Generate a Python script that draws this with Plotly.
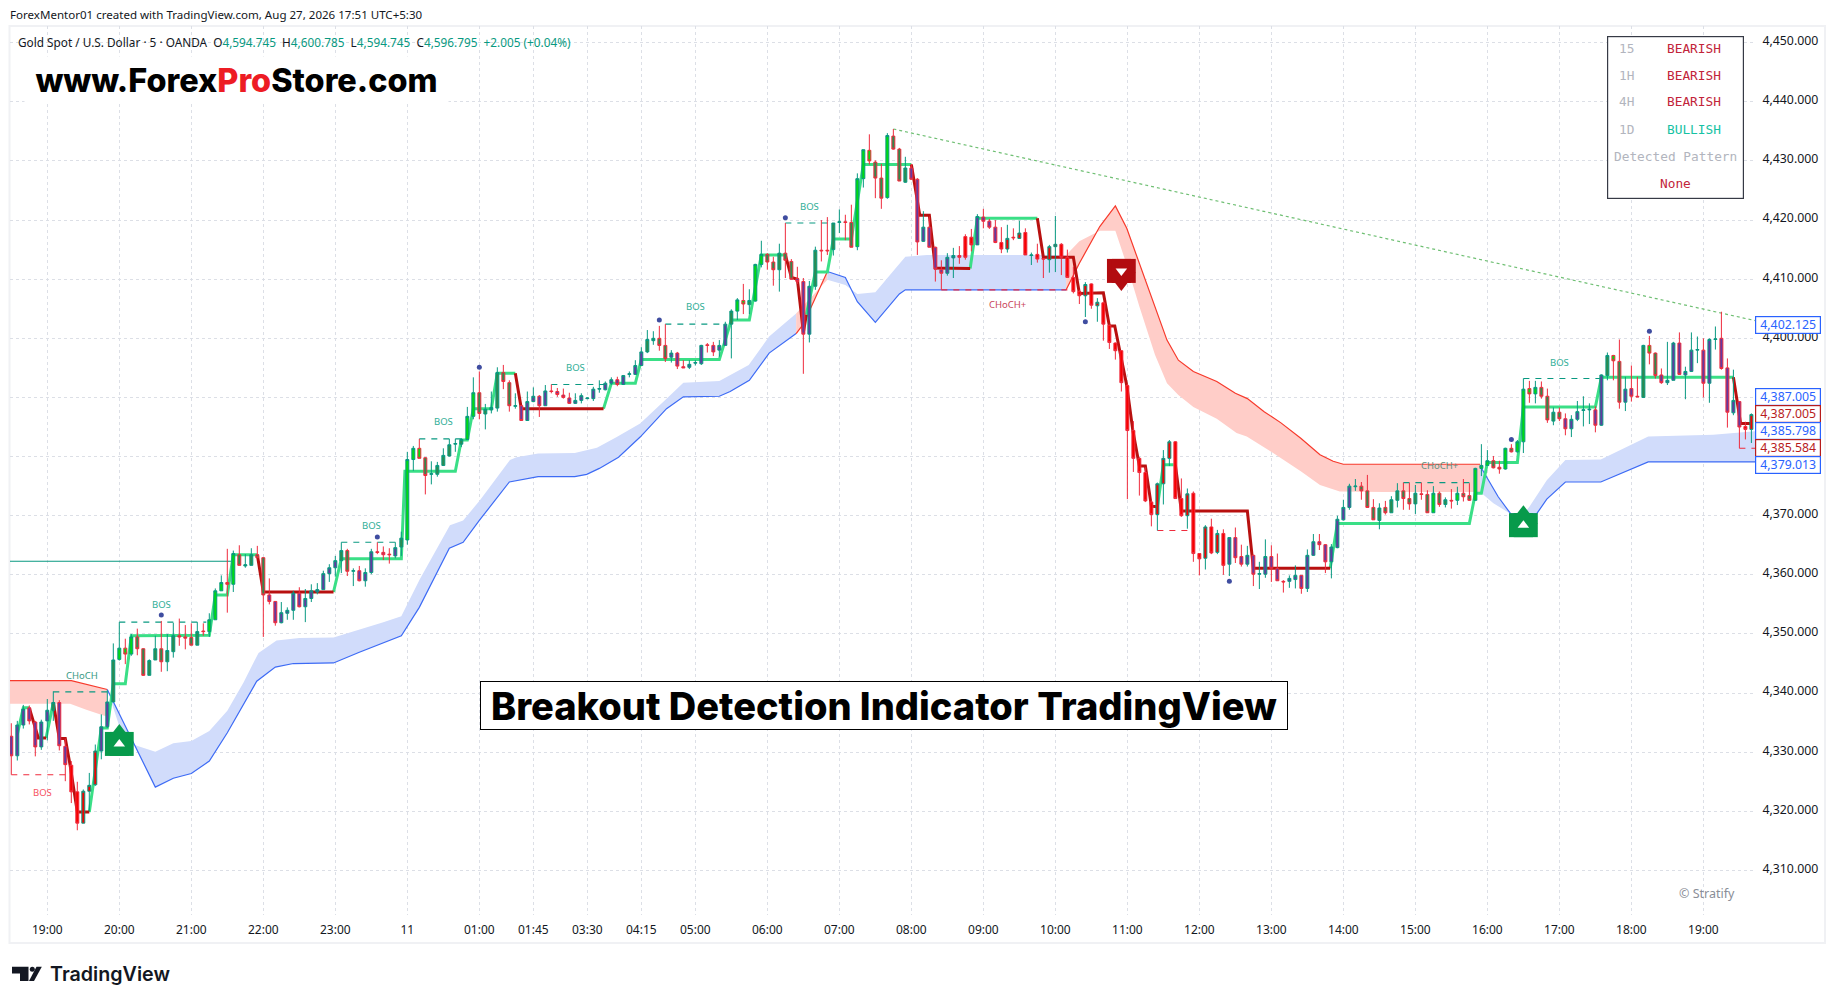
import plotly.graph_objects as go

# ---------- candle data (bar index, body top/bottom, wicks, direction, body colour) ----------
candle_index = list(range(-6, 285))
candle_top = [
 4332.7,4334.6,4337.3,4337.5,4335.1,4335.1,4337.1,4338.4,4338.4,4331,
 4327.8,4323.3,4323.4,4324.4,4330.2,4334.3,4338.5,4345.6,4347.6,4347.6,
 4349.5,4349.5,4347.5,4345.5,4347.5,4347.5,4347.2,4349.7,4349.7,4349.5,
 4349.4,4350.4,4350.5,4352.4,4357.3,4358.7,4358.7,4363.6,4363.4,4361.7,
 4363.4,4363.4,4362.9,4356.6,4355.5,4353.6,4354,4356.9,4356.9,4356,
 4357.3,4357.5,4360.2,4361.2,4362.4,4364.1,4364.1,4360.7,4360.7,4360.4,
 4363.9,4363.9,4363.8,4363.5,4364.6,4366.2,4379.5,4381.4,4381.4,4379.8,
 4377.1,4378.5,4380.2,4382,4382.2,4382.9,4386.8,4390.8,4390.8,4388,
 4388.3,4394.2,4394.2,4392.5,4388.6,4388.6,4389.3,4390.2,4390.2,4391.1,
 4391.1,4391,4390.4,4389.9,4389.5,4390.3,4389.9,4391.4,4391.5,4392.4,
 4393,4393,4393.7,4394,4395.4,4397.7,4399.8,4400,4400,4398.8,
 4397.5,4397.5,4395.2,4395.6,4395.9,4398.8,4398.9,4398.8,4398.8,4402.4,
 4404.6,4406.5,4406.4,4406.4,4412.5,4414.2,4414.2,4412.9,4414.4,4414.4,
 4413,4410.1,4409.6,4408.8,4414.9,4414.9,4414.9,4419.5,4419.7,4419.7,
 4419.6,4427,4431.9,4431.8,4429.8,4427.1,4434.3,4434.2,4432,4428.8,
 4428.8,4426.9,4418.8,4418.8,4415.4,4411.6,4413.7,4414,4414,4417.2,
 4417.1,4420.6,4420.5,4419.8,4418.8,4416.2,4416.9,4417.1,4417.8,4417.9,
 4414.1,4414.2,4413.5,4415.5,4415.9,4415.9,4413.7,4410.3,4407.9,4409.1,
 4409.2,4406.1,4406,4402.2,4399.2,4397.9,4392,4384.4,4379.7,4377.3,
 4372.3,4375.4,4379.7,4382.5,4382.5,4372.9,4373.7,4373.8,4363.6,4368.1,
 4368.1,4367,4367,4366.3,4366.3,4363.1,4363.3,4363.3,4360.2,4363.1,
 4363.1,4361.1,4358.9,4359.4,4359.9,4359.9,4363.3,4365.6,4365.6,4365.1,
 4364.7,4369.4,4371.4,4375,4375,4375,4374.2,4371.4,4371.3,4371.4,
 4372.7,4374.2,4374.2,4372.9,4373.8,4373.7,4373.6,4373.8,4373.8,4372.7,
 4372.6,4373.8,4373.8,4373.4,4378,4378.5,4379.3,4379.3,4378.2,4381.4,
 4381.4,4382.5,4391.4,4391.5,4391.7,4391.7,4390.2,4387.5,4387.5,4386.4,
 4386.3,4387.6,4387.9,4388,4387.9,4393.8,4397.1,4397.1,4396.1,4391.4,
 4391.5,4390.2,4398.8,4398.8,4397.5,4393.8,4392.9,4399.2,4399.2,4394.4,
 4398,4398.1,4398,4399.8,4399.9,4400,4395,4389.5,4389.3,4385.1,
 4387.1]
candle_bottom = [
 4329.4,4329.4,4334.6,4335.3,4330.9,4330.9,4335.3,4337.1,4331.1,4327.9,
 4323.3,4318,4318,4323.4,4324.5,4330.2,4334.3,4338.5,4345.7,4346.6,
 4346.6,4347.5,4343,4343,4345.6,4345.3,4345.3,4347,4349.5,4349.3,
 4348.1,4348.1,4350.4,4350.4,4352.4,4357.3,4358.4,4358.4,4361.6,4361.5,
 4361.6,4362.9,4356.6,4355.5,4351.9,4351.9,4353.5,4354,4354.6,4354.6,
 4356,4357.1,4357.5,4360.2,4361.2,4362.4,4360.6,4360.6,4359,4359,
 4360.4,4363.8,4363.4,4363.4,4363.2,4364.7,4365.9,4379.5,4379.7,4376.8,
 4377,4377,4378.5,4380.1,4382.1,4382.1,4382.9,4386.8,4387.3,4387.2,
 4387.9,4388.2,4392.7,4388.6,4388.5,4386.1,4386.1,4389.3,4388.6,4388.6,
 4391,4390.5,4390,4389,4389,4389.5,4389.8,4389.8,4391.4,4391.3,
 4392.4,4392.2,4392.2,4393.9,4393.9,4395.4,4397.7,4399.6,4398.8,4396.6,
 4396.8,4395.3,4395,4395.1,4395.8,4395.7,4398.8,4397.7,4398,4398.8,
 4402.4,4404.6,4405.8,4405.7,4406.3,4412.5,4412.9,4411.6,4411.6,4413.2,
 4410,4409.6,4400.7,4400.7,4408.8,4414.8,4414.8,4415,4419.6,4419.6,
 4415.4,4415.5,4427,4430,4427.1,4423.7,4423.8,4432,4426.6,4426.4,
 4426.9,4416.3,4416.4,4415.4,4411.7,4411,4411,4413.6,4413.7,4413.7,
 4415.8,4415.8,4419.8,4418.8,4416.2,4415.1,4415.1,4417,4416.9,4414.1,
 4414,4413.4,4413.4,4413.3,4415.5,4413.7,4410.3,4407.9,4407.2,4407.2,
 4405.6,4405.5,4402.4,4399.3,4397.9,4392.5,4384.4,4379.7,4377.3,4372.5,
 4370.2,4370.2,4375.4,4379.7,4372.9,4370,4370,4363.6,4362.7,4362.8,
 4363.7,4363.8,4361.6,4361.8,4362.9,4361.8,4361.8,4360.1,4360.1,4360.1,
 4361.1,4359,4358.8,4358.9,4359.2,4357.7,4357.7,4363.3,4365.1,4362.2,
 4362.2,4364.6,4369.3,4371.4,4374.9,4374.2,4371.4,4369.3,4369.2,4370.5,
 4370.5,4372.6,4372.9,4372,4372,4373.6,4370.5,4370.5,4371.9,4371.9,
 4372.5,4372.6,4373.2,4372.6,4372.6,4378,4378.5,4378.1,4377.9,4377.9,
 4380.8,4380.8,4382.5,4390.6,4390.6,4390.2,4386.2,4386,4386.4,4384.7,
 4384.7,4386.3,4387.8,4387.9,4385.3,4385.3,4393.7,4396.2,4389.2,4389.2,
 4390.2,4390.1,4390,4397.5,4393.7,4392.5,4392.5,4392.9,4393.9,4393.8,
 4394.4,4398,4392.4,4392.4,4399.8,4394.9,4387.5,4387.4,4385,4384.6,
 4384.6]
candle_high = [
 4334.9,4335.3,4338,4337.9,4335.3,4335.5,4339,4340.3,4338.8,4332.3,
 4328.5,4325,4323.7,4326.5,4331.3,4336.4,4340.5,4348.4,4352,4349.2,
 4350,4350.9,4347.6,4345.7,4349.7,4352.2,4350,4351.9,4352.6,4351.5,
 4351.8,4352,4351.8,4353.5,4357.7,4359.9,4364.4,4364.1,4365,4363.5,
 4364.5,4364.9,4363,4359.4,4355.5,4355.4,4354.5,4357.3,4357.9,4357.6,
 4358.4,4358.6,4360.7,4361.8,4363.2,4365.5,4364.4,4361.1,4361.5,4361.1,
 4364.4,4365.5,4364.8,4364.5,4365.5,4367.3,4380.8,4381.8,4383,4379.9,
 4379.2,4379.1,4381.4,4383,4383,4383.1,4388.4,4393.4,4394.4,4388.9,
 4391,4395.1,4395.5,4392.9,4390.7,4388.7,4391,4391.7,4390.4,4392.1,
 4392.2,4391.6,4391.5,4390.8,4390.7,4390.7,4390,4391.8,4392.9,4392.7,
 4393.4,4393.5,4393.8,4394.4,4396.3,4398.5,4401.4,4401.2,4402.1,4402.4,
 4398,4397.7,4396.3,4396.3,4396.3,4398.9,4399.2,4399.4,4399.7,4402.8,
 4404.9,4406.8,4409.2,4408.3,4412.6,4416.5,4414.4,4413.8,4416,4419.5,
 4413.4,4412.1,4410.2,4409.7,4415.5,4420,4420.5,4419.5,4421.8,4420.9,
 4422.6,4427.9,4431.9,4434.5,4430.1,4429.5,4434.7,4435.4,4432.2,4430.7,
 4429.5,4427.1,4421.5,4420.6,4415.5,4413.2,4414.4,4415.3,4415.6,4417.6,
 4418.5,4421,4421.9,4420.2,4420,4418.8,4419.2,4418.6,4419.9,4418.6,
 4414.5,4416,4413.6,4415.8,4420.7,4416.1,4415,4412.1,4408.2,4409.5,
 4409.3,4406.8,4406.2,4402.3,4399.3,4398,4392.3,4386,4379.9,4378.2,
 4372.6,4375.6,4381.1,4382.8,4382.6,4376.3,4374.6,4374.1,4363.6,4368.4,
 4369.5,4367.6,4367.7,4366.3,4368,4365.1,4364.9,4363.4,4362.2,4366,
 4365,4363.6,4359.1,4359.9,4361.6,4359.9,4364.3,4366.9,4366.9,4365.2,
 4365.2,4370,4372.7,4375.4,4376.2,4375.7,4376.9,4372.8,4372.1,4372.5,
 4373.3,4375.5,4375.6,4375.6,4375.2,4375.6,4374.3,4375,4374.1,4373.1,
 4374.5,4374.9,4376.2,4375.5,4378.1,4382.1,4381.1,4380.1,4379.3,4381.5,
 4382.1,4382.8,4393.2,4392.8,4392.8,4392.7,4391.5,4388.3,4388.3,4387.3,
 4387,4389.4,4390.2,4389,4388.5,4393.9,4397.6,4397.2,4399.8,4393.5,
 4395.4,4393.5,4398.9,4400.4,4397.6,4394.9,4399.4,4399.4,4401,4395.2,
 4401,4400.3,4400,4400,4402,4404.5,4396.6,4394.7,4389.3,4385.9,
 4387.3]
candle_low = [
 4326.2,4328.6,4334,4334.7,4329.3,4330.4,4332,4335.3,4330.3,4325.1,
 4321.4,4316.8,4318,4320,4324.3,4328.8,4334.1,4338.5,4345.5,4344.9,
 4346.3,4346.4,4342.9,4343,4345.6,4343.6,4343.7,4346,4348,4347.4,
 4348.1,4348.1,4349.7,4349.5,4352.4,4357.3,4353.6,4357.1,4361.6,4361.2,
 4361.6,4362.9,4349.5,4355,4351.4,4351.8,4352.4,4352.4,4354.5,4352,
 4355.4,4356.7,4357.5,4358.8,4359.7,4360.3,4359.8,4358.1,4358.9,4358,
 4360.1,4363.5,4362.5,4361.9,4362.8,4363.2,4365.1,4377.6,4379.7,4373.6,
 4375.3,4376.6,4378.4,4380,4380.8,4381.6,4382.9,4386.3,4386.3,4384.6,
 4387.3,4387.6,4391.4,4387.6,4388.1,4386.1,4386.1,4389.2,4386.7,4388.6,
 4390.7,4390.1,4389.8,4388.9,4388.9,4389,4389.7,4389.4,4390.8,4391.2,
 4392.1,4391.9,4392.1,4393.4,4393.8,4395.3,4397.5,4398.9,4397.9,4396,
 4395.9,4394.8,4395,4394.8,4395.4,4395.5,4397.6,4397,4396.9,4398.8,
 4396.6,4403.1,4404.1,4404.1,4406.2,4412,4411.6,4408.9,4407.9,4410.2,
 4409.9,4409.2,4394,4399.3,4408.2,4413,4414.1,4414,4417.8,4416.6,
 4415.4,4414.9,4425.5,4429.4,4423.7,4421.9,4423.6,4431.9,4426.6,4426.3,
 4426.8,4414.1,4416.3,4415.4,4409.6,4408.2,4410.6,4410.2,4412.6,4413.3,
 4414.7,4415.8,4418.6,4418.5,4416.1,4414.4,4414.5,4416.6,4416.8,4414.1,
 4412.4,4412.8,4410.2,4411.1,4411.2,4410.7,4410.3,4407.6,4405.8,4403.6,
 4405,4402.8,4399.6,4398.2,4396.4,4391,4372.8,4377.4,4373.4,4372.3,
 4368.2,4367.5,4371.9,4378.4,4372.9,4369.8,4367.8,4362.2,4359.9,4360.9,
 4363.5,4363.5,4360,4359.8,4362,4361.4,4361.4,4358.1,4357.6,4359.5,
 4358.8,4359,4357,4357.8,4357.7,4356.8,4357.1,4363.2,4364.2,4360.3,
 4359.4,4364.5,4369.2,4371,4374.2,4372.7,4371.4,4369.3,4367.7,4370.2,
 4370.5,4371.4,4371,4371,4370.3,4372.7,4370.5,4370.5,4371.5,4371.4,
 4371.2,4371.8,4372.4,4372.5,4372.5,4376.7,4378.5,4378,4377.1,4377.8,
 4380.7,4380.7,4380.6,4389.1,4389,4389.8,4385.7,4385.3,4386,4383.6,
 4383.3,4386,4385.1,4385.5,4384.1,4385.2,4392.9,4392.9,4388.1,4387.7,
 4389.3,4390.1,4389.9,4395.6,4393.2,4392.3,4392.1,4392.9,4393.8,4389.7,
 4394.3,4395.8,4390,4389.1,4398.1,4394.7,4384.9,4387,4381.4,4382.9,
 4382.3]
candle_dir = ("duudd uuudd dduuu uuuud udduu duudd duduu ududu udddd uuudu uuuuu ududu "
              "udddu uuudd uuuuu uuudu uuddu duudu ddddu uuuuu uduuu uuudd udduu udduu "
              "uuduu uddud ddduu dduud duudd duddu ddudd duudd duddd dudud udduu ddddu "
              "duddd ddddd duuud duddu dudud duduu ddduu duudd uuuuu dddud uuddu ddudu "
              "duddu uuddu duudu ddudd uuuud uuddu ddudd duudu uuduu ddudd u").replace(" ", "")
candle_fill = ("ppppp ppspp rrrrr ppsgg gssss sssss sssgg gggss ssspp ppppp ppppp ssspp "
               "ppppp sgggs sssss sggss sssss ppppp ppppp ppppp ppppp pssss ppppp ppppp "
               "sggsg gssss sppps sssss sgggs sgsss ppppp ppppr rpppp rrrrr rrrrr rrrrr "
               "rrrrr rrrrr rrrrr rrrrr rrrpp ppppp ppppp ppppp pppps sssss sssss ssgss "
               "sgssg ggssg sgggg ssssp ppppp psgsp ppsgs ppppp ppppp ppppr r").replace(" ", "")

# ---------- trend step line ----------
bull_trend_index = [-5,-4,-3,None,-0.2,1,None,7,8,9,10,11,13,14,27,28,30,31,35,None,47.7,49,59,59.6,68,69,70,71,74,75,78,None,
                    92.7,94,98,99,112,114,117,119,123,None,126.5,128,130,131,134,136,144,None,153.8,155,165,None,
                    185,186,187.7,None,213.8,215,237,238,239,240,245,246,258,259,281]
bull_trend_price = [4333,4337.5,4337.5,None,4332.4,4338.4,None,4319.9,4327,4334.1,4334.1,4341.6,4341.6,4349.7,4349.8,4356.6,4356.6,4363.4,4363.4,None,
                    4357.1,4362.7,4362.7,4377.5,4377.5,4382.8,4382.8,4388.1,4388.1,4394.1,4394.1,None,
                    4388.1,4392.4,4392.4,4396.4,4396.4,4403.1,4403.1,4414.1,4414.1,None,4404,4411.2,4411.2,4416.8,4416.8,4429.4,4429.4,None,
                    4411.8,4420.3,4420.3,None,4371.5,4378.6,4378.6,None,4361.1,4368.7,4368.7,4373.8,4373.8,4379,4379,4388.4,4388.4,4393.4,4393.4]
bear_trend_index = [-3,-1.5,-0.2,None,1,2,3,3.8,5,7,None,35,36,47.7,None,78,79,92.7,None,123,124,125,126,126.5,None,
                    144,145.4,147,148,153.8,None,165,166,171,172,176,177,177.9,179.9,180.9,182,183,184,185,None,
                    188,189,200,201,213.8,None,281,282.2,284]
bear_trend_price = [4337.5,4332.4,4332.4,None,4338.4,4332.3,4332.3,4327.8,4319.9,4319.9,None,4363.4,4357.1,4357.1,None,4394.1,4388.1,4388.1,None,
                    4414.1,4410.3,4410,4401,4404,None,4429.4,4420.8,4420.8,4411.9,4411.8,None,4420.3,4413.7,4413.7,4407.6,4407.7,4402.1,4402.1,4392,4384.5,
                    4378.4,4378.4,4371.6,4371.5,None,4378.6,4370.8,4370.8,4361.1,4361.1,None,4393.4,4385.6,4385.6]

# ---------- cloud bands ----------
red1_line_index = [-6.3,4,10]
red1_line_price = [4342.1,4342.1,4340.6]
red1_edge_index = [-6.3,3.8,6.5,10]
red1_edge_price = [4338.2,4338.2,4337.2,4336]
blue1_line_index = [10,18,21,24,27,30,34.9,38,41,47.7,52,56,59,62,67,69.3,72,77,78,81.8,87.9,89.9,92,95.2,98.8,103.2,106,112,113.8,117,120.3,124.8]
blue1_line_price = [4340.6,4324.1,4325.6,4326.4,4328.5,4333.3,4342,4344.4,4345,4345.1,4346.9,4348.5,4349.7,4354.5,4364.5,4365.5,4369.2,4375.7,4375.9,4376.6,4376.6,4377,4378,4379.9,4383.3,4388.1,4390.1,4390.2,4391,4392.9,4397.5,4400.8]
blue1_edge_index = [10,12,14.3,18,21,24,27,30,32.7,35.2,38.2,42,47.7,53.3,56,59,62.1,67.1,69.3,72.1,77.1,78.2,81.8,87.9,91.6,94.9,98.8,103.2,106,112,116.9,120.3,124.8]
blue1_edge_price = [4340.6,4334.4,4331.3,4330.1,4331.5,4331.9,4333.6,4337,4341.8,4346.8,4348.9,4349.3,4349.4,4351.1,4352,4353,4359.3,4368.4,4369.2,4372.6,4379.4,4379.9,4380.5,4380.6,4381.5,4383.3,4385.6,4389.8,4392.5,4392.8,4395.5,4400.3,4404.2]
red2_line_index = [124.8,126,130]
red2_line_price = [4400.8,4402.4,4411.3]
red2_edge_index = [124.8,126,130]
red2_edge_price = [4404.2,4405.5,4409.9]
blue2_line_index = [130,133,135,138,142,143,169.8]
blue2_line_price = [4411.3,4410.3,4406.2,4402.7,4407.5,4408.2,4408.2]
blue2_edge_index = [130,133,135,138,143,146.6,169.8]
blue2_edge_price = [4409.9,4409,4407.5,4407.8,4413.8,4414.1,4414.1]
red3_line_index = [169.8,172,175.4,178,179.9,182,184.6,186.6,188.5,191,194.9,198,200,202.8,205.6,208.9,212.1,214.3,216,238.8]
red3_line_price = [4408.2,4412.7,4418.9,4422.4,4418.6,4412.7,4405.4,4399.7,4396.3,4394.4,4392.7,4390.7,4389.8,4387.6,4385.7,4383.1,4380.3,4379.2,4378.7,4378.7]
red3_edge_index = [169.8,172,175.4,178,180,182,184.6,186.6,188.5,191,194.9,198.2,199.9,204.3,208.9,212.1,215.4,222.8,238.8]
red3_edge_price = [4414.1,4416.4,4418.2,4418.2,4412.1,4405.4,4397.2,4392.4,4390.4,4388.4,4386.4,4384,4383.4,4380.6,4377.5,4375.2,4374.1,4374,4374]
blue3_line_index = [238.8,241.8,243.9,248.2,249.9,253,258.9,266.8,284.6]
blue3_line_price = [4378.4,4373.2,4370.3,4370.3,4372.8,4375.7,4375.7,4379.1,4379.1]
blue3_edge_index = [238.8,241,243.9,246,247,249.9,253,258.9,266.8,277.6,284.6]
blue3_edge_price = [4374,4372.1,4370.3,4370.3,4371.5,4376,4379.4,4379.5,4383.4,4383.7,4384.3]

# ---------- structure levels: [start, end, price] ----------
bull_level_start = [1,12,49,62,84,103,123,226,246]
bull_level_end = [10,26.5,58.8,69.3,93.8,113,131,238,259]
bull_level_price = [4340.2,4352,4365.5,4383,4392.2,4402.4,4419.5,4375.6,4393.2]
bear_level_start = [-6,149,185,282]
bear_level_end = [3.2,170,191,284.6]
bear_level_price = [4326.2,4408.2,4367.5,4381.4]
solid_level_index = [-6.3,30.7]
solid_level_price = [4362.3,4362.3]
trendline_index = [141,284.6]
trendline_price = [4435.4,4403]
pivot_index = [19,55,72,102,123,173,197,244,267]
pivot_price = [4353.2,4366.4,4395.1,4403.1,4420.4,4402.8,4358.9,4382.9,4401.2]

label_text = ["BOS","BOS","BOS","BOS","BOS","BOS","CHoCH","CHoCH+","BOS","BOS","CHoCH+"]
label_index = [19,54,66,88,108,127,5.8,232,252,-0.8,160]
label_price = [4354.9,4368.3,4385.9,4395,4405.3,4422.3,4342.9,4378.5,4395.9,4323.2,4405.8]
label_color = ["#2fae96","#2fae96","#2fae96","#2fae96","#2fae96","#2fae96","#3a9a84","#5a8f80","#2fae96","#f7525f","#c9455a"]

buy_index = [12,246]
buy_price = [4331.4,4368.4]
sell_index = [179]
sell_price = [4411.4]

# ---------- axis labels ----------
time_tick_index = [0,12,24,36,48,60,72,81,90,99,108,120,132,144,156,168,180,192,204,216,228,240,252,264,276]
time_tick_text = ["19:00","20:00","21:00","22:00","23:00","11","01:00","01:45","03:30","04:15","05:00","06:00","07:00","08:00","09:00","10:00","11:00","12:00","13:00","14:00","15:00","16:00","17:00","18:00","19:00"]
price_ticks = [4310,4320,4330,4340,4350,4360,4370,4380,4390,4400,4410,4420,4430,4440,4450]

# table
table_left = ["15","1H","4H","1D"]
table_right = ["BEARISH","BEARISH","BEARISH","BULLISH"]

# axis price flags: value, colour, pixel y
flag_text = ["4,402.125","4,387.005","4,387.005","4,385.798","4,385.584","4,379.013"]
flag_color = ["#2962ff","#2962ff","#b71c1c","#2962ff","#b71c1c","#2962ff"]
flag_px = [325,396.7,414,431,448.3,465]

# ---------- layout geometry ----------
W, H = 1835, 1004
L, R, T, B = 10, 1755, 26, 915
def X(px): return (px - L) / (R - L)
def Y(px): return 1 - (px - T) / (B - T)

FONT = "Noto Sans"
BEAR = "#ef2b3d"
BULL = "#089981"
FILLS = {"g": "#00dc12", "s": "#2e8b4f", "p": "#633aa0", "r": "#f70000"}

fig = go.Figure()

def band(xa, ya, xb, yb, line_color, fill, name):
    fig.add_trace(go.Scatter(x=xb, y=yb, mode="lines", line=dict(width=0, color=fill), hoverinfo="skip", showlegend=False, name=name + " edge"))
    fig.add_trace(go.Scatter(x=xa, y=ya, mode="lines", line=dict(width=1.2, color=line_color), fill="tonexty", fillcolor=fill, hoverinfo="skip", showlegend=False, name=name))

RED_L, RED_F, BLUE_L, BLUE_F = "#f7392b", "rgba(255,205,200,1)", "#3d6bf5", "rgba(209,220,251,1)"
band(red1_line_index, red1_line_price, red1_edge_index, red1_edge_price, RED_L, RED_F, "red cloud 1")
band(blue1_line_index, blue1_line_price, blue1_edge_index, blue1_edge_price, BLUE_L, BLUE_F, "blue cloud 1")
band(red2_line_index, red2_line_price, red2_edge_index, red2_edge_price, RED_L, RED_F, "red cloud 2")
band(blue2_line_index, blue2_line_price, blue2_edge_index, blue2_edge_price, BLUE_L, BLUE_F, "blue cloud 2")
band(red3_line_index, red3_line_price, red3_edge_index, red3_edge_price, RED_L, RED_F, "red cloud 3")
band(blue3_line_index, blue3_line_price, blue3_edge_index, blue3_edge_price, BLUE_L, BLUE_F, "blue cloud 3")

fig.add_trace(go.Scatter(x=solid_level_index, y=solid_level_price, mode="lines", line=dict(color=BULL, width=1.1), showlegend=False, hoverinfo="skip"))
fig.add_trace(go.Scatter(x=trendline_index, y=trendline_price, mode="lines", line=dict(color="#6fbf73", width=1.2, dash="dot"), showlegend=False, hoverinfo="skip"))

def levels(starts, ends, prices, color):
    xs, ys = [], []
    for a, b, p in zip(starts, ends, prices):
        xs += [a, b, None]
        ys += [p, p, None]
    fig.add_trace(go.Scatter(x=xs, y=ys, mode="lines", line=dict(color=color, width=1.1, dash="6px,6px"), showlegend=False, hoverinfo="skip"))

levels(bull_level_start, bull_level_end, bull_level_price, BULL)
levels(bear_level_start, bear_level_end, bear_level_price, BEAR)

fig.add_trace(go.Scatter(x=bull_trend_index, y=bull_trend_price, mode="lines", line=dict(color="#3adf86", width=3), showlegend=False, hoverinfo="skip"))
fig.add_trace(go.Scatter(x=bear_trend_index, y=bear_trend_price, mode="lines", line=dict(color="#b8100f", width=3), showlegend=False, hoverinfo="skip"))

# candles: one trace per body colour; direction picks the border colour
assert len(candle_index) == len(candle_top) == len(candle_bottom) == len(candle_high) == len(candle_low) == len(candle_dir) == len(candle_fill)
for code, colour in FILLS.items():
    rows = [k for k, c in enumerate(candle_fill) if c == code]
    fig.add_trace(go.Candlestick(
        x=[candle_index[k] for k in rows],
        open=[candle_top[k] if candle_dir[k] == "d" else candle_bottom[k] for k in rows],
        close=[candle_bottom[k] if candle_dir[k] == "d" else candle_top[k] for k in rows],
        high=[candle_high[k] for k in rows],
        low=[candle_low[k] for k in rows],
        increasing=dict(line=dict(color=BULL, width=1), fillcolor=colour),
        decreasing=dict(line=dict(color=BEAR, width=1), fillcolor=colour),
        whiskerwidth=0, showlegend=False, hoverinfo="skip", zorder=5))

fig.add_trace(go.Scatter(x=pivot_index, y=pivot_price, mode="markers", marker=dict(color="#3f4da0", size=5), showlegend=False, hoverinfo="skip", zorder=6))

# signal tags
BUY, SELL = "#079a4b", "#b20c10"
for dx in (-0.4, 0.4):
    fig.add_trace(go.Scatter(x=[v + dx for v in buy_index], y=buy_price, mode="markers", marker=dict(symbol="square", size=24, color=BUY), showlegend=False, hoverinfo="skip", zorder=7))
    fig.add_trace(go.Scatter(x=[v + dx for v in sell_index], y=sell_price, mode="markers", marker=dict(symbol="square", size=24, color=SELL), showlegend=False, hoverinfo="skip", zorder=7))
fig.add_trace(go.Scatter(x=buy_index, y=[v + 1.27 for v in buy_price], mode="markers", marker=dict(symbol="triangle-up", size=25, color=BUY), showlegend=False, hoverinfo="skip", zorder=7))
fig.add_trace(go.Scatter(x=sell_index, y=[v - 1.27 for v in sell_price], mode="markers", marker=dict(symbol="triangle-down", size=25, color=SELL), showlegend=False, hoverinfo="skip", zorder=7))
fig.add_trace(go.Scatter(x=buy_index, y=buy_price, mode="markers", marker=dict(symbol="triangle-up", size=10, color="white"), showlegend=False, hoverinfo="skip", zorder=8))
fig.add_trace(go.Scatter(x=sell_index, y=sell_price, mode="markers", marker=dict(symbol="triangle-down", size=10, color="white"), showlegend=False, hoverinfo="skip", zorder=8))

ann = []
def text(px, py, s, size=12, color="#131722", family=FONT, anchor="left", weight=None, **kw):
    f = dict(size=size, color=color, family=family)
    if weight:
        f["weight"] = weight
    ann.append(dict(xref="paper", yref="paper", x=X(px), y=Y(py), text=s, showarrow=False, xanchor=anchor, yanchor="middle", font=f, **kw))

for t, i, p, c in zip(label_text, label_index, label_price, label_color):
    ann.append(dict(xref="x", yref="y", x=i, y=p, text=t, showarrow=False, font=dict(size=9.5, color=c, family=FONT)))

NB = "\u00a0"
TEAL = '<span style="color:#089981">%s</span>'
text(8, 14.5, "ForexMentor01 created with TradingView.com, Aug 27, 2026 17:51 UTC+5:30", size=11.55)
text(16, 41.7, "Gold Spot / U.S. Dollar · 5 · OANDA" + NB + NB + "O" + TEAL % "4,594.745" + NB + NB + "H" + TEAL % "4,600.785" + NB + NB + "L" + TEAL % "4,594.745" + NB + NB + "C" + TEAL % "4,596.795" + NB + NB + TEAL % "+2.005 (+0.04%)", size=11.8)
# website stamp
text(24, 80, "www.Forex<span style='color:#ed1c24'>Pro</span>Store.com", size=32.4, color="#000000", family="Inter", weight=800,
     bgcolor="#ffffff", width=421, height=44, align="center")
# headline stamp
text(480, 705.5, "Breakout Detection Indicator TradingView", size=38, color="#000000", family="Inter", weight=800,
     bgcolor="#ffffff", bordercolor="#000000", borderwidth=1, width=804, height=45, align="center")
# table frame
text(1607, 117.5, " ", bgcolor="#ffffff", bordercolor="#363a45", borderwidth=1.2, width=133, height=159)
MONO = "DejaVu Sans Mono"
for k, (a, b) in enumerate(zip(table_left, table_right)):
    yy = [48, 75, 102, 129.5][k]
    text(1626, yy, a, size=12.8, color="#b2b5be", family=MONO, anchor="center")
    text(1694, yy, b, size=12.8, color="#16c2a3" if b == "BULLISH" else "#c2243a", family=MONO, anchor="center")
text(1675.7, 156, "Detected Pattern", size=12.8, color="#b2b5be", family=MONO, anchor="center")
text(1675.7, 183, "None", size=12.8, color="#c2243a", family=MONO, anchor="center")
# price flags
for s, c, py in zip(flag_text, flag_color, flag_px):
    text(1754.5, py, s, size=12.3, color=c, bgcolor="#ffffff", bordercolor=c, borderwidth=1.2, width=62, height=13.5, align="center")
text(1707, 893, "© Stratify", size=12.5, color="#8a8e97", anchor="center")
text(47.5, 974, "TradingView", size=19.7, color="#131722", family="Inter", weight=600)

shapes = [
    dict(type="rect", xref="paper", yref="paper", x0=X(9.5), x1=X(1825), y0=Y(26), y1=Y(943), line=dict(color="#f0f1f4", width=2), layer="below"),
    # TradingView logo: T block, dot, slanted stroke
    dict(type="path", xref="paper", yref="paper", fillcolor="#131722", line=dict(width=0),
         path="M%f,%f L%f,%f L%f,%f L%f,%f L%f,%f L%f,%f Z" % (X(12),Y(966.7),X(28.5),Y(966.7),X(28.5),Y(981),X(20),Y(981),X(20),Y(973.5),X(12),Y(973.5))),
    dict(type="circle", xref="paper", yref="paper", fillcolor="#131722", line=dict(width=0), x0=X(29.8), x1=X(34.8), y0=Y(966.7), y1=Y(971.7)),
    dict(type="path", xref="paper", yref="paper", fillcolor="#131722", line=dict(width=0),
         path="M%f,%f L%f,%f L%f,%f L%f,%f Z" % (X(36.5),Y(966.7),X(41.8),Y(966.7),X(34),Y(981),X(29),Y(981))),
]

fig.update_layout(
    width=W, height=H, margin=dict(l=L, r=W - R, t=T, b=H - B, pad=0),
    paper_bgcolor="#ffffff", plot_bgcolor="#ffffff", showlegend=False,
    annotations=ann, shapes=shapes, hovermode=False,
    font=dict(family=FONT, size=12, color="#131722"),
    xaxis=dict(range=[-6.217, 284.6], tickmode="array", tickvals=time_tick_index, ticktext=time_tick_text, rangeslider=dict(visible=False),
               showgrid=True, gridcolor="#dcdfe6", griddash="dot", gridwidth=1, zeroline=False, showline=False,
               ticks="outside", ticklen=4, tickcolor="rgba(0,0,0,0)", tickfont=dict(size=12, family=FONT, color="#131722")),
    yaxis=dict(range=[4302.47, 4452.82], side="right", tickmode="array", tickvals=price_ticks, tickformat=",.3f",
               showgrid=True, gridcolor="#dcdfe6", griddash="dot", gridwidth=1, zeroline=False, showline=False, ticklabelshift=-2,
               ticks="outside", ticklen=4, tickcolor="rgba(0,0,0,0)", tickfont=dict(size=12.3, family=FONT, color="#131722")),
)

fig.write_html("out.html", config={"displayModeBar": False},
               post_script="document.body.style.margin='0';document.body.style.overflow='hidden';")
